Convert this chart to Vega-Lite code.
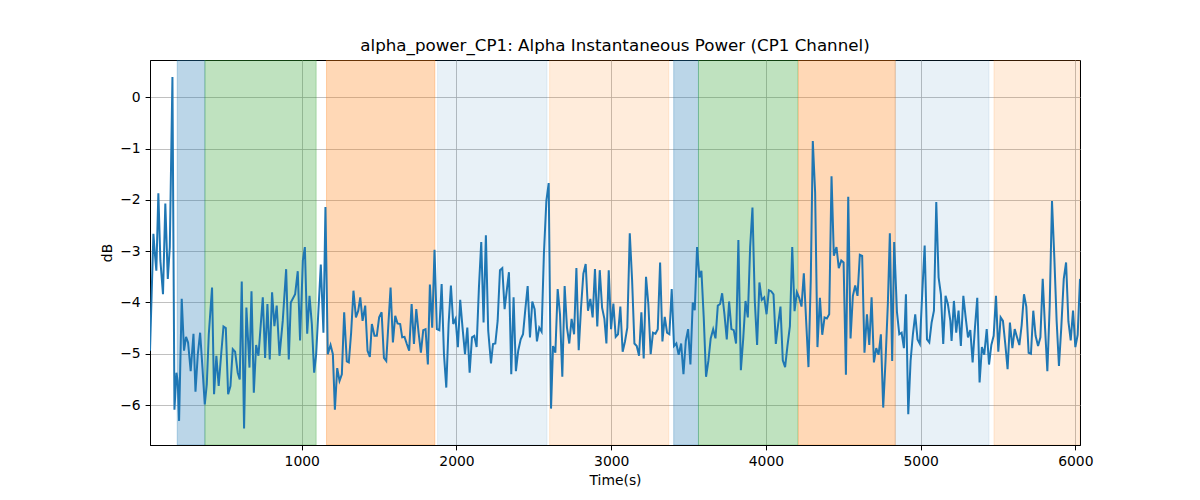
{
  "$schema": "https://vega.github.io/schema/vega-lite/v6.json",
  "width": 930,
  "height": 385,
  "autosize": {"type": "none"},
  "padding": {"left": 150, "top": 60, "right": 120, "bottom": 55},
  "background": "white",
  "config": {
    "view": {"stroke": "black", "strokeWidth": 1},
    "font": "DejaVu Sans",
    "axis": {
      "labelFont": "DejaVu Sans", "labelFontSize": 13.9, "labelColor": "black",
      "titleFont": "DejaVu Sans", "titleFontSize": 13.9, "titleFontWeight": "normal", "titleColor": "black",
      "tickColor": "black", "tickSize": 4.9, "labelPadding": 4.9,
      "domainColor": "black", "domainWidth": 1,
      "gridColor": "#b0b0b0", "gridWidth": 0.8, "labelFlush": false
    }
  },
  "title": {
    "text": "alpha_power_CP1: Alpha Instantaneous Power (CP1 Channel)",
    "font": "DejaVu Sans", "fontSize": 16.7, "fontWeight": "normal", "color": "black",
    "anchor": "middle", "baseline": "alphabetic", "offset": 8.5, "dy": 16
  },
  "datasets": {
    "bands": [
      {"start": 195, "end": 374, "block": "1"},
      {"start": 374, "end": 1093, "block": "2"},
      {"start": 1160, "end": 1860, "block": "3"},
      {"start": 1878, "end": 2585, "block": "4"},
      {"start": 2602, "end": 3372, "block": "5"},
      {"start": 3404, "end": 3564, "block": "1"},
      {"start": 3564, "end": 4206, "block": "2"},
      {"start": 4210, "end": 4836, "block": "3"},
      {"start": 4836, "end": 5442, "block": "4"},
      {"start": 5474, "end": 6030, "block": "5"}
    ],
    "power": [
      {"time":19,"dB":-4.94},{"time":41,"dB":-2.66},{"time":49,"dB":-2.99},{"time":60,"dB":-3.38},{"time":73,"dB":-1.87},
      {"time":86,"dB":-3.18},{"time":103,"dB":-3.84},{"time":118,"dB":-2.07},{"time":134,"dB":-3.54},{"time":147,"dB":-2.92},
      {"time":164,"dB":0.40},{"time":177,"dB":-6.09},{"time":190,"dB":-5.37},{"time":198,"dB":-5.53},{"time":207,"dB":-6.31},
      {"time":224,"dB":-3.93},{"time":239,"dB":-4.94},{"time":252,"dB":-4.67},{"time":265,"dB":-4.78},{"time":282,"dB":-5.34},
      {"time":300,"dB":-4.61},{"time":313,"dB":-5.74},{"time":328,"dB":-5.01},{"time":343,"dB":-4.59},{"time":358,"dB":-5.27},
      {"time":373,"dB":-5.99},{"time":386,"dB":-5.60},{"time":399,"dB":-4.62},{"time":420,"dB":-3.71},{"time":433,"dB":-5.79},
      {"time":448,"dB":-5.04},{"time":463,"dB":-5.63},{"time":479,"dB":-5.01},{"time":494,"dB":-4.47},{"time":509,"dB":-4.50},
      {"time":524,"dB":-5.79},{"time":539,"dB":-5.63},{"time":554,"dB":-4.91},{"time":569,"dB":-4.96},{"time":586,"dB":-5.37},
      {"time":599,"dB":-5.50},{"time":612,"dB":-3.59},{"time":627,"dB":-6.46},{"time":642,"dB":-4.10},{"time":662,"dB":-5.27},
      {"time":675,"dB":-3.78},{"time":690,"dB":-5.76},{"time":705,"dB":-4.83},{"time":720,"dB":-5.04},
      {"time":748,"dB":-3.90},{"time":763,"dB":-5.08},{"time":778,"dB":-4.03},{"time":793,"dB":-5.11},{"time":808,"dB":-3.80},
      {"time":823,"dB":-4.46},{"time":838,"dB":-4.06},{"time":856,"dB":-5.04},{"time":877,"dB":-4.36},{"time":899,"dB":-3.35},
      {"time":916,"dB":-5.11},{"time":929,"dB":-4.00},{"time":957,"dB":-3.84},{"time":974,"dB":-3.39},{"time":989,"dB":-4.74},
      {"time":1007,"dB":-3.18},{"time":1020,"dB":-2.92},{"time":1035,"dB":-4.61},{"time":1050,"dB":-3.87},{"time":1065,"dB":-4.42},
      {"time":1080,"dB":-5.37},{"time":1093,"dB":-5.01},{"time":1123,"dB":-3.26},{"time":1140,"dB":-4.59},{"time":1153,"dB":-2.14},
      {"time":1168,"dB":-5.01},{"time":1186,"dB":-4.83},{"time":1201,"dB":-5.01},{"time":1214,"dB":-6.09},{"time":1229,"dB":-5.28},
      {"time":1244,"dB":-5.53},{"time":1259,"dB":-5.40},{"time":1274,"dB":-4.19},{"time":1291,"dB":-5.15},{"time":1304,"dB":-5.17},
      {"time":1319,"dB":-4.59},{"time":1334,"dB":-3.77},{"time":1350,"dB":-4.29},{"time":1365,"dB":-4.16},{"time":1378,"dB":-3.90},
      {"time":1393,"dB":-4.36},{"time":1410,"dB":-4.06},{"time":1425,"dB":-4.94},{"time":1440,"dB":-5.06},{"time":1453,"dB":-4.42},
      {"time":1470,"dB":-4.65},{"time":1485,"dB":-4.65},{"time":1500,"dB":-4.29},{"time":1516,"dB":-4.19},{"time":1531,"dB":-5.08},
      {"time":1546,"dB":-5.14},{"time":1561,"dB":-4.36},{"time":1574,"dB":-3.71},{"time":1589,"dB":-4.78},{"time":1604,"dB":-4.26},
      {"time":1619,"dB":-4.41},{"time":1636,"dB":-4.42},{"time":1649,"dB":-4.68},{"time":1664,"dB":-4.67},{"time":1679,"dB":-4.81},
      {"time":1694,"dB":-4.94},{"time":1710,"dB":-4.03},{"time":1725,"dB":-4.81},{"time":1740,"dB":-4.13},{"time":1755,"dB":-4.59},
      {"time":1770,"dB":-4.98},{"time":1785,"dB":-4.54},{"time":1800,"dB":-4.52},{"time":1815,"dB":-5.21},{"time":1828,"dB":-3.65},
      {"time":1843,"dB":-4.49},{"time":1858,"dB":-2.97},{"time":1873,"dB":-4.52},{"time":1889,"dB":-4.54},{"time":1904,"dB":-3.64},
      {"time":1919,"dB":-5.01},{"time":1934,"dB":-5.66},{"time":1949,"dB":-4.42},{"time":1964,"dB":-3.67},{"time":1979,"dB":-4.42},
      {"time":1994,"dB":-4.32},{"time":2009,"dB":-4.87},{"time":2024,"dB":-3.95},{"time":2039,"dB":-4.49},{"time":2055,"dB":-5.01},
      {"time":2070,"dB":-4.49},{"time":2085,"dB":-5.37},{"time":2100,"dB":-4.68},{"time":2115,"dB":-4.65},{"time":2130,"dB":-4.87},
      {"time":2145,"dB":-3.71},{"time":2160,"dB":-2.82},{"time":2175,"dB":-4.39},{"time":2190,"dB":-2.69},{"time":2205,"dB":-4.55},
      {"time":2223,"dB":-5.19},{"time":2236,"dB":-4.81},{"time":2251,"dB":-4.80},{"time":2266,"dB":-4.36},{"time":2281,"dB":-3.37},
      {"time":2296,"dB":-3.33},{"time":2311,"dB":-4.13},{"time":2326,"dB":-3.74},{"time":2339,"dB":-3.41},{"time":2354,"dB":-5.40},
      {"time":2369,"dB":-3.90},{"time":2384,"dB":-5.34},{"time":2399,"dB":-4.94},{"time":2415,"dB":-4.72},{"time":2430,"dB":-4.62},
      {"time":2445,"dB":-4.13},{"time":2460,"dB":-3.68},{"time":2475,"dB":-4.68},{"time":2490,"dB":-3.98},{"time":2505,"dB":-4.13},
      {"time":2520,"dB":-4.76},{"time":2535,"dB":-4.49},{"time":2550,"dB":-4.57},{"time":2565,"dB":-3.05},{"time":2581,"dB":-2.01},
      {"time":2596,"dB":-1.67},{"time":2611,"dB":-6.07},{"time":2624,"dB":-4.85},{"time":2639,"dB":-4.98},{"time":2654,"dB":-3.74},
      {"time":2669,"dB":-4.23},{"time":2684,"dB":-5.45},{"time":2699,"dB":-3.68},{"time":2714,"dB":-4.49},{"time":2729,"dB":-4.80},
      {"time":2744,"dB":-4.32},{"time":2760,"dB":-4.62},{"time":2775,"dB":-3.33},{"time":2790,"dB":-4.93},{"time":2805,"dB":-4.10},
      {"time":2820,"dB":-3.44},{"time":2835,"dB":-3.25},{"time":2850,"dB":-4.16},{"time":2865,"dB":-3.93},{"time":2880,"dB":-4.29},
      {"time":2895,"dB":-3.35},{"time":2910,"dB":-4.47},{"time":2926,"dB":-3.37},{"time":2941,"dB":-4.10},{"time":2956,"dB":-4.32},
      {"time":2969,"dB":-4.80},{"time":2984,"dB":-3.37},{"time":2999,"dB":-4.52},{"time":3014,"dB":-4.02},{"time":3029,"dB":-4.67},
      {"time":3044,"dB":-4.62},{"time":3059,"dB":-4.08},{"time":3074,"dB":-4.96},{"time":3089,"dB":-4.76},{"time":3104,"dB":-4.49},
      {"time":3120,"dB":-2.65},{"time":3135,"dB":-3.56},{"time":3150,"dB":-4.80},{"time":3165,"dB":-4.85},{"time":3180,"dB":-5.04},
      {"time":3195,"dB":-4.19},{"time":3210,"dB":-5.09},{"time":3225,"dB":-3.50},{"time":3240,"dB":-4.03},{"time":3255,"dB":-5.01},
      {"time":3270,"dB":-4.59},{"time":3286,"dB":-4.61},{"time":3301,"dB":-4.52},{"time":3316,"dB":-3.22},{"time":3331,"dB":-4.76},
      {"time":3346,"dB":-4.28},{"time":3361,"dB":-4.59},{"time":3376,"dB":-4.62},{"time":3391,"dB":-3.74},{"time":3406,"dB":-4.85},
      {"time":3421,"dB":-4.80},{"time":3436,"dB":-5.02},{"time":3452,"dB":-4.80},{"time":3467,"dB":-5.40},{"time":3482,"dB":-4.75},
      {"time":3497,"dB":-4.52},{"time":3512,"dB":-5.21},{"time":3527,"dB":-4.00},{"time":3540,"dB":-4.15},{"time":3555,"dB":-2.92},
      {"time":3570,"dB":-3.51},{"time":3583,"dB":-3.38},{"time":3598,"dB":-4.29},{"time":3613,"dB":-5.45},{"time":3628,"dB":-5.14},
      {"time":3643,"dB":-4.70},{"time":3659,"dB":-4.52},{"time":3674,"dB":-4.70},{"time":3689,"dB":-4.06},{"time":3704,"dB":-4.03},
      {"time":3717,"dB":-3.82},{"time":3732,"dB":-4.23},{"time":3747,"dB":-4.72},{"time":3762,"dB":-3.98},{"time":3777,"dB":-4.52},
      {"time":3792,"dB":-4.54},{"time":3807,"dB":-4.80},{"time":3822,"dB":-2.78},{"time":3838,"dB":-5.32},{"time":3853,"dB":-4.72},
      {"time":3868,"dB":-3.97},{"time":3883,"dB":-4.29},{"time":3898,"dB":-2.92},{"time":3913,"dB":-2.15},{"time":3928,"dB":-3.97},
      {"time":3943,"dB":-4.83},{"time":3958,"dB":-3.61},{"time":3973,"dB":-3.95},{"time":3989,"dB":-3.90},{"time":4004,"dB":-4.23},
      {"time":4019,"dB":-3.76},{"time":4034,"dB":-3.78},{"time":4049,"dB":-3.84},{"time":4064,"dB":-4.81},{"time":4079,"dB":-4.42},
      {"time":4094,"dB":-4.08},{"time":4109,"dB":-5.13},{"time":4124,"dB":-5.26},{"time":4139,"dB":-4.85},{"time":4155,"dB":-4.46},
      {"time":4170,"dB":-2.92},{"time":4185,"dB":-4.17},{"time":4200,"dB":-3.80},{"time":4215,"dB":-3.91},{"time":4230,"dB":-4.08},
      {"time":4245,"dB":-3.43},{"time":4260,"dB":-4.36},{"time":4275,"dB":-5.26},{"time":4290,"dB":-3.54},{"time":4303,"dB":-0.85},
      {"time":4318,"dB":-1.85},{"time":4333,"dB":-4.87},{"time":4349,"dB":-3.91},{"time":4364,"dB":-4.63},{"time":4379,"dB":-4.29},
      {"time":4394,"dB":-4.31},{"time":4409,"dB":-4.23},{"time":4424,"dB":-1.54},{"time":4439,"dB":-3.09},
      {"time":4456,"dB":-2.92},{"time":4471,"dB":-3.33},{"time":4487,"dB":-3.18},{"time":4502,"dB":-3.22},{"time":4517,"dB":-5.41},
      {"time":4532,"dB":-1.94},{"time":4547,"dB":-4.70},{"time":4562,"dB":-3.87},{"time":4577,"dB":-3.67},{"time":4592,"dB":-3.87},
      {"time":4607,"dB":-3.07},{"time":4622,"dB":-3.09},{"time":4637,"dB":-4.98},{"time":4653,"dB":-4.23},{"time":4668,"dB":-4.83},
      {"time":4683,"dB":-3.90},{"time":4698,"dB":-5.17},{"time":4713,"dB":-4.89},{"time":4728,"dB":-5.02},{"time":4743,"dB":-4.62},
      {"time":4758,"dB":-6.05},{"time":4773,"dB":-5.14},{"time":4788,"dB":-4.03},{"time":4801,"dB":-2.65},{"time":4816,"dB":-5.14},
      {"time":4829,"dB":-2.82},{"time":4847,"dB":-4.19},{"time":4862,"dB":-4.62},{"time":4877,"dB":-4.59},{"time":4892,"dB":-4.89},
      {"time":4905,"dB":-3.84},{"time":4920,"dB":-6.18},{"time":4935,"dB":-5.14},{"time":4950,"dB":-4.62},{"time":4965,"dB":-4.23},
      {"time":4980,"dB":-4.72},{"time":4995,"dB":-4.81},{"time":5010,"dB":-3.84},{"time":5026,"dB":-2.89},{"time":5041,"dB":-4.72},
      {"time":5056,"dB":-4.78},{"time":5071,"dB":-4.39},{"time":5086,"dB":-4.16},{"time":5101,"dB":-2.04},{"time":5116,"dB":-3.51},
      {"time":5131,"dB":-3.84},{"time":5146,"dB":-4.81},{"time":5161,"dB":-3.87},{"time":5176,"dB":-4.03},{"time":5192,"dB":-4.36},
      {"time":5200,"dB":-4.75},{"time":5215,"dB":-3.97},{"time":5230,"dB":-4.59},{"time":5245,"dB":-4.16},{"time":5260,"dB":-4.85},
      {"time":5276,"dB":-3.87},{"time":5291,"dB":-4.29},{"time":5306,"dB":-4.68},{"time":5321,"dB":-4.54},{"time":5336,"dB":-5.17},
      {"time":5351,"dB":-4.49},{"time":5366,"dB":-3.91},{"time":5381,"dB":-5.56},{"time":5396,"dB":-4.87},{"time":5411,"dB":-5.02},
      {"time":5427,"dB":-4.52},{"time":5442,"dB":-5.21},{"time":5457,"dB":-4.83},{"time":5472,"dB":-4.65},{"time":5487,"dB":-3.87},
      {"time":5502,"dB":-4.96},{"time":5517,"dB":-4.29},{"time":5532,"dB":-4.36},{"time":5547,"dB":-4.81},{"time":5562,"dB":-5.30},
      {"time":5577,"dB":-4.39},{"time":5593,"dB":-4.89},{"time":5608,"dB":-4.52},{"time":5623,"dB":-4.68},{"time":5638,"dB":-4.83},
      {"time":5653,"dB":-4.44},{"time":5668,"dB":-3.84},{"time":5683,"dB":-4.08},{"time":5698,"dB":-4.98},{"time":5713,"dB":-5.00},
      {"time":5728,"dB":-4.16},{"time":5743,"dB":-4.65},{"time":5759,"dB":-4.85},{"time":5774,"dB":-4.68},{"time":5789,"dB":-3.54},
      {"time":5804,"dB":-4.49},{"time":5819,"dB":-5.34},{"time":5834,"dB":-4.08},{"time":5849,"dB":-2.02},{"time":5864,"dB":-3.12},
      {"time":5879,"dB":-4.36},{"time":5894,"dB":-5.24},{"time":5909,"dB":-4.49},{"time":5925,"dB":-3.54},{"time":5940,"dB":-3.22},
      {"time":5955,"dB":-4.37},{"time":5970,"dB":-4.74},{"time":5985,"dB":-4.16},{"time":6000,"dB":-4.87},{"time":6015,"dB":-4.63},
      {"time":6030,"dB":-3.54}
    ]
  },
  "layer": [
    {
      "data": {"name": "bands"},
      "mark": {"type": "rect", "clip": true, "strokeWidth": 1},
      "encoding": {
        "x": {
          "field": "start", "type": "quantitative",
          "scale": {"domain": [19, 6030], "nice": false, "zero": false},
          "axis": {"title": "Time(s)", "values": [1000, 2000, 3000, 4000, 5000, 6000], "format": "d", "grid": true, "titlePadding": 5}
        },
        "x2": {"field": "end"},
        "color": {
          "field": "block", "type": "nominal", "legend": null,
          "scale": {
            "domain": ["1", "2", "3", "4", "5"],
            "range": ["rgba(31,119,180,0.3)", "rgba(44,160,44,0.3)", "rgba(255,127,14,0.3)", "rgba(31,119,180,0.1)", "rgba(255,127,14,0.15)"]
          }
        },
        "stroke": {
          "field": "block", "type": "nominal", "legend": null,
          "scale": {
            "domain": ["1", "2", "3", "4", "5"],
            "range": ["rgba(31,119,180,0.3)", "rgba(44,160,44,0.3)", "rgba(255,127,14,0.3)", "rgba(31,119,180,0.1)", "rgba(255,127,14,0.15)"]
          }
        }
      }
    },
    {
      "data": {"name": "power"},
      "mark": {"type": "line", "color": "#1f77b4", "strokeWidth": 2, "clip": true},
      "encoding": {
        "x": {
          "field": "time", "type": "quantitative",
          "scale": {"domain": [19, 6030], "nice": false, "zero": false},
          "axis": {"title": "Time(s)", "values": [1000, 2000, 3000, 4000, 5000, 6000], "format": "d", "grid": true, "titlePadding": 5}
        },
        "y": {
          "field": "dB", "type": "quantitative",
          "scale": {"domain": [-6.78, 0.73], "nice": false, "zero": false},
          "axis": {"title": "dB", "values": [-6, -5, -4, -3, -2, -1, 0], "format": "d", "grid": true, "titlePadding": 5}
        }
      }
    }
  ]
}
